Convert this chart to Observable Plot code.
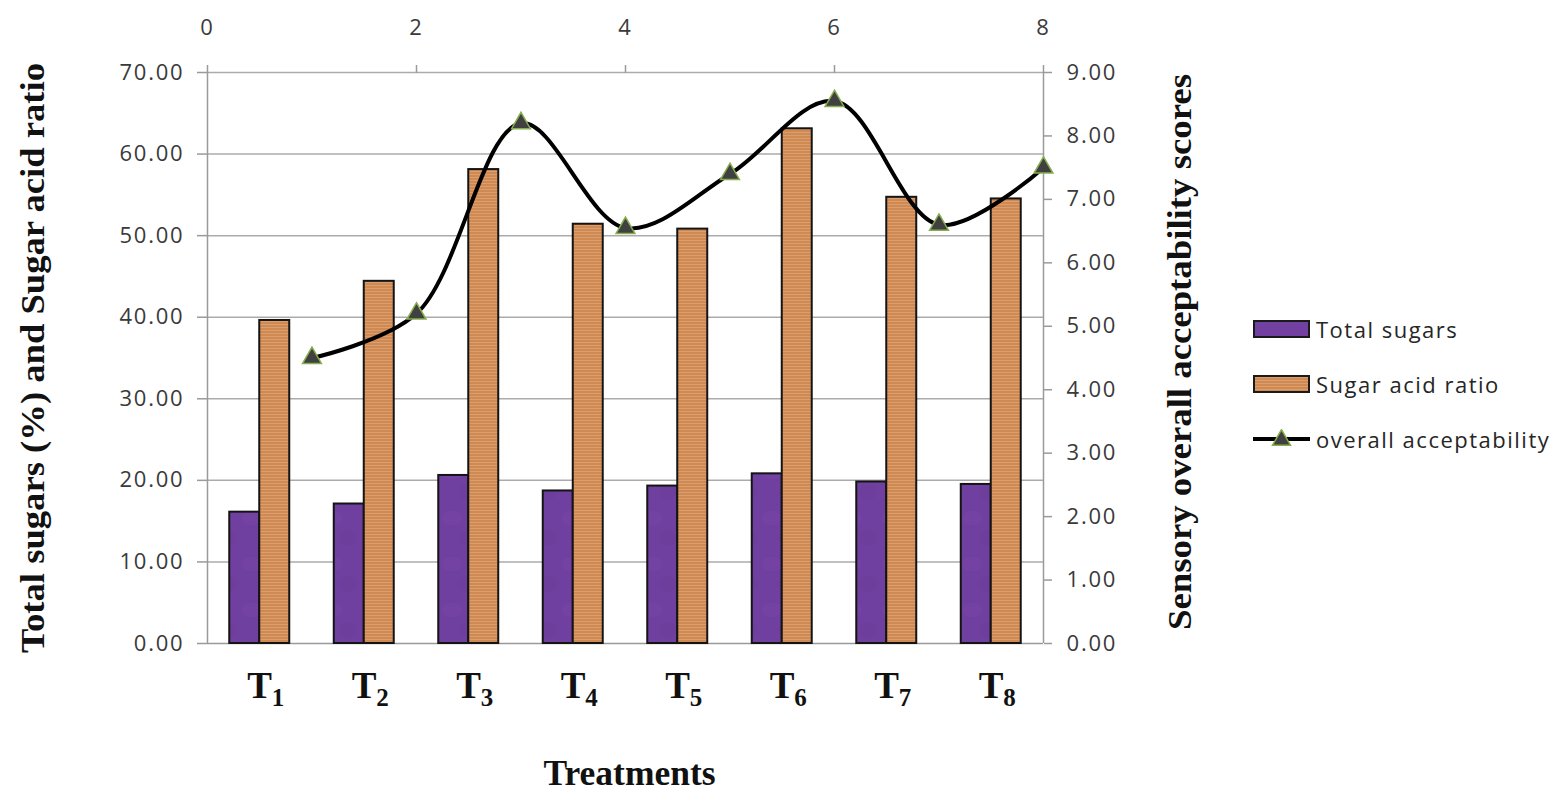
<!DOCTYPE html>
<html><head><meta charset="utf-8">
<script src="https://cdn.jsdelivr.net/npm/d3@7"></script>
<script src="https://cdn.jsdelivr.net/npm/@observablehq/plot@0.6"></script>
<style>
body{margin:0;background:#fff;}
#wrap{position:relative;width:1556px;height:793px;overflow:hidden;}
#legend{position:absolute;left:1253px;top:301px;font-family:"Open Sans",sans-serif;font-size:22px;color:#262626;letter-spacing:1.5px;}
.row{display:flex;align-items:center;height:55px;white-space:nowrap;}
.sw{width:53px;height:14px;border:2px solid #1a1a1a;margin-right:6px;}
.row svg{margin-right:6px;}
</style></head><body>
<div id="wrap"><div id="chart"></div><div id="legend"></div></div>
<script>
const treatments = ["T1","T2","T3","T4","T5","T6","T7","T8"];
const totalSugars = [16.1, 17.1, 20.6, 18.7, 19.3, 20.8, 19.8, 19.5];
const sugarAcidRatio = [39.6, 44.4, 58.1, 51.4, 50.8, 63.1, 54.7, 54.5];
const acceptability = [4.5, 5.2, 8.2, 6.55, 7.4, 8.55, 6.6, 7.5];
const leftTicks = [0, 10, 20, 30, 40, 50, 60, 70];
const rightTicks = [0, 1, 2, 3, 4, 5, 6, 7, 8, 9];
const topTicks = [0, 2, 4, 6, 8];
const seriesNames = ["Total sugars", "Sugar acid ratio", "overall acceptability"];
const leftTitle = "Total sugars (%) and Sugar acid ratio";
const rightTitle = "Sensory overall acceptability scores";
const xTitle = "Treatments";

const leftMax = 70, rightMax = 9;
const toLeft = v => v * leftMax / rightMax;
const barW = 0.287;

const bars = [];
treatments.forEach((t, i) => {
  bars.push({t, i, series: seriesNames[0], value: totalSugars[i], x1: i + 0.5 - barW, x2: i + 0.5});
  bars.push({t, i, series: seriesNames[1], value: sugarAcidRatio[i], x1: i + 0.5, x2: i + 0.5 + barW});
});
const linePts = acceptability.map((v, i) => ({t: treatments[i], pos: i + 1, v}));

const fills = {"Total sugars": "url(#purpleTex)", "Sugar acid ratio": "url(#orangeStripes)"};

function defs() {
  const d = d3.create("svg:defs");
  const p1 = d.append("pattern").attr("id", "orangeStripes").attr("patternUnits", "userSpaceOnUse")
    .attr("width", 6).attr("height", 3);
  p1.append("rect").attr("width", 6).attr("height", 3).attr("fill", "#CF8A53");
  p1.append("rect").attr("y", 0).attr("width", 6).attr("height", 1).attr("fill", "#DC9E6C");
  const p2 = d.append("pattern").attr("id", "purpleTex").attr("patternUnits", "userSpaceOnUse")
    .attr("width", 40).attr("height", 46);
  p2.append("rect").attr("width", 40).attr("height", 46).attr("fill", "#7040A0");
  p2.append("ellipse").attr("cx", 12).attr("cy", 12).attr("rx", 10).attr("ry", 7).attr("fill", "#7A47AB").attr("opacity", 0.3);
  p2.append("ellipse").attr("cx", 28).attr("cy", 32).attr("rx", 9).attr("ry", 8).attr("fill", "#67398F").attr("opacity", 0.3);
  return d.node();
}

const tickFont = "'Open Sans', sans-serif";
const serif = "'Liberation Serif', 'Times New Roman', serif";

const chart = Plot.plot({
  width: 1556, height: 793,
  marginLeft: 207, marginRight: 513, marginTop: 72, marginBottom: 150,
  x: {domain: [0, 8]},
  y: {domain: [0, leftMax]},
  style: {background: "#fff"},
  marks: [
    defs,
    Plot.ruleY(leftTicks.slice(1), {stroke: "#ababab", strokeWidth: 1.5}),
    Plot.ruleY([0], {stroke: "#9a9a9a", strokeWidth: 1.5}),
    Plot.ruleX([0, 8], {stroke: "#9a9a9a", strokeWidth: 1.5}),
    Plot.rect(bars, {x1: "x1", x2: "x2", y1: 0, y2: "value", fill: d => fills[d.series], stroke: "#141414", strokeWidth: 2}),
    Plot.line(linePts, {x: "pos", y: d => toLeft(d.v), stroke: "#000", strokeWidth: 4, curve: "catmull-rom"}),
    Plot.dot(linePts, {x: "pos", y: d => toLeft(d.v), symbol: "triangle", r: 7, fill: "#404040", stroke: "#86AE4E", strokeWidth: 1.5}),
    Plot.axisY({anchor: "left", ticks: leftTicks, tickFormat: d => d.toFixed(2), tickSize: 10, tickPadding: 13, label: null,
      fontSize: 22, fontFamily: tickFont, color: "#3a3a3a", stroke: "#9a9a9a", strokeWidth: 1.5}),
    Plot.axisY({anchor: "right", ticks: rightTicks.map(toLeft), tickFormat: v => (v * rightMax / leftMax).toFixed(2), tickSize: 8, tickPadding: 15, label: null,
      fontSize: 22, fontFamily: tickFont, color: "#3a3a3a", stroke: "#9a9a9a", strokeWidth: 1.5}),
    Plot.axisX({anchor: "top", ticks: topTicks, tickFormat: d => String(d), tickSize: 8, tickPadding: 30, label: null,
      fontSize: 22, fontFamily: tickFont, color: "#3a3a3a", stroke: "#9a9a9a", strokeWidth: 1.5}),
    Plot.axisX({anchor: "bottom", ticks: treatments.map((t, i) => i + 0.5), tickFormat: d => treatments[Math.round(d - 0.5)], tickSize: 0, tickPadding: 28, label: null,
      fontSize: 37, fontFamily: serif, fontWeight: "bold", color: "#111", dx: 6}),
    Plot.text([leftTitle], {frameAnchor: "left", dx: -174, rotate: -90, textAnchor: "middle", lineAnchor: "middle", fontSize: 34, fontWeight: "bold", fontFamily: serif, fill: "#111"}),
    Plot.text([rightTitle], {frameAnchor: "right", dx: 137, dy: -6, rotate: -90, textAnchor: "middle", lineAnchor: "middle", fontSize: 34, fontWeight: "bold", fontFamily: serif, fill: "#111"}),
    Plot.text([xTitle], {frameAnchor: "bottom", dx: 4, dy: 130, textAnchor: "middle", lineAnchor: "middle", fontSize: 36, fontWeight: "bold", fontFamily: serif, fill: "#111"})
  ]
});
document.getElementById("chart").appendChild(chart);

const svg = d3.select(chart);
svg.selectAll("text").each(function() {
  const el = d3.select(this);
  const s = this.textContent;
  if (treatments.includes(s)) {
    el.text(null);
    el.append("tspan").text(s[0]);
    el.append("tspan").attr("font-size", 25).attr("dy", "0.32em").text(s.slice(1));
  } else if (s === leftTitle) {
    el.attr("textLength", 590).attr("lengthAdjust", "spacingAndGlyphs");
  } else if (s === rightTitle) {
    el.attr("textLength", 556).attr("lengthAdjust", "spacingAndGlyphs");
  } else if (s === xTitle) {
    el.attr("textLength", 172).attr("lengthAdjust", "spacingAndGlyphs");
  } else if (/^[0-9.]+$/.test(s)) {
    el.attr("letter-spacing", "1.8px");
  }
});

// Legend
const legend = d3.select("#legend");
const r1 = legend.append("div").attr("class", "row");
r1.append("div").attr("class", "sw").style("background", "#7140A0");
r1.append("span").text(seriesNames[0]);
const r2 = legend.append("div").attr("class", "row");
r2.append("div").attr("class", "sw").style("background", "repeating-linear-gradient(#DC9E6C 0 1px, #CF8A53 1px 3px)");
r2.append("span").text(seriesNames[1]);
const r3 = legend.append("div").attr("class", "row");
const ls = r3.append("svg").attr("width", 57).attr("height", 20);
ls.append("line").attr("x1", 0).attr("x2", 57).attr("y1", 10).attr("y2", 10).attr("stroke", "#000").attr("stroke-width", 4);
ls.append("path").attr("d", d3.symbol(d3.symbolTriangle, 140)()).attr("transform", "translate(28.5,11)").attr("fill", "#404040").attr("stroke", "#86AE4E").attr("stroke-width", 1.5);
r3.append("span").text(seriesNames[2]);
</script>
</body></html>
